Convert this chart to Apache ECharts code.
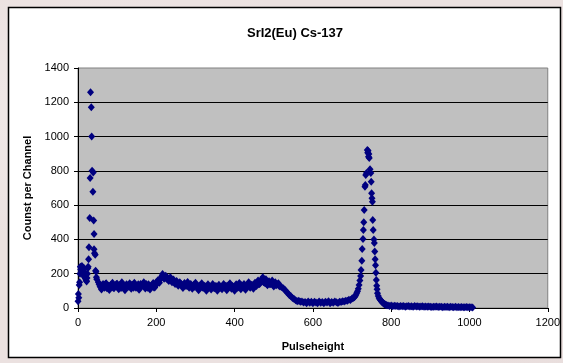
<!DOCTYPE html>
<html><head><meta charset="utf-8">
<script src="https://cdn.jsdelivr.net/npm/echarts@6/dist/echarts.min.js"></script>
<style>
html,body{margin:0;padding:0;width:563px;height:363px;overflow:hidden;
background:#ebe1e0;
background-image:radial-gradient(ellipse at 20% 30%, rgba(255,255,255,0.35), rgba(255,255,255,0) 40%),radial-gradient(ellipse at 80% 70%, rgba(200,180,180,0.25), rgba(200,180,180,0) 45%);}
#c{width:563px;height:363px;}
</style></head>
<body><div id="c"></div>
<script>
// ---- data ----
const chartTitle = 'SrI2(Eu) Cs-137';
const xTitle = 'Pulseheight';
const yTitle = 'Counst per Channel';
const xTicks = { min: 0, max: 1200, step: 200 };
const yTicks = { min: 0, max: 1400, step: 200 };

// low-energy region (channel, counts)
const lowRegion = [
  [0,40],[1,82],[2,60],[3,134],[4,150],[5,200],[6,241],[7,225],[8,233],[9,210],[10,245],
  [11,220],[12,200],[13,235],[14,190],[15,233],[16,210],[17,180],[18,200],[19,170],[20,193],
  [21,160],[22,154],[23,175],[24,200],[25,232],[26,240],[27,284],[28,354],[30,525],[31,758],
  [32,1258],[34,1171],[35,1000],[36,800],[38,678],[39,791],[40,511],[41,432],[41,342],[42,320],
  [44,311],[45,218],[46,212],[47,180],[48,167]
];
// Compton continuum: counts for channels 52..516, every 4 channels
const continuumStart = 52, continuumStep = 4;
const continuum = [
  150,128,108,140,118,145,125,105,135,148,115,130,142,110,126,150,120,104,138,128,
  145,112,132,148,118,126,106,140,130,150,114,124,138,108,130,146,120,150,162,148,
  176,198,170,188,178,158,180,150,166,140,158,130,150,138,116,146,128,152,118,140,
  112,135,148,120,104,132,145,118,126,100,138,122,108,140,115,128,100,136,120,110,
  140,124,104,132,145,112,125,100,138,118,146,110,128,140,106,130,150,118,135,112,
  148,128,160,140,165,180,150,168,132,156,140,160,125,150,135,145,125
];
// Compton continuum, in-between channels 54..514, every 4 channels
const continuumBStart = 54, continuumBStep = 4;
const continuumB = [
  138,120,132,126,140,115,130,122,136,118,128,140,120,132,116,134,126,120,130,124,
  128,136,118,130,124,138,120,128,134,122,140,118,130,126,136,120,132,142,155,168,
  185,178,182,170,165,172,160,155,150,145,140,138,142,130,135,132,138,126,134,128,
  130,124,136,128,122,132,120,130,126,118,128,124,120,130,118,126,122,124,116,128,
  120,130,118,126,122,128,120,124,130,122,126,132,120,128,124,130,126,132,128,136,
  134,142,138,150,160,150,145,140,148,138,145,135,140,132,138,128
];
// Compton edge fall-off and valley: channels 520..700, every 4 channels
const valleyStart = 520, valleyStep = 4;
const valley = [
  122,115,108,95,88,75,68,58,52,45,40,42,36,38,32,35,28,38,30,36,
  27,36,32,28,38,30,35,27,36,32,39,28,35,30,38,33,29,36,35,40,
  38,42,42,48,47,55
];
// photopeak region (channel, counts)
const photopeak = [
  [703,58],[706,62],[708,70],[710,78],[712,88],[714,98],[716,112],[718,134],[720,160],[722,187],
  [723,222],[725,276],[726,344],[728,402],[729,455],[730,500],[731,572],[733,708],[734,717],[735,776],
  [737,787],[739,921],[740,905],[741,918],[742,883],[743,898],[744,875],[746,809],[748,787],[749,737],
  [750,670],[751,640],[752,620],[753,513],[754,455],[756,400],[757,379],[758,330],[759,284],[760,250],
  [761,206],[762,163],[763,130],[764,110],[765,86],[767,70],[769,58],[771,51],[773,45],[775,40],
  [777,34],[779,30],[781,26],[783,22],[785,20],[787,18],[789,16]
];
// high-energy tail: channels 792..1008, every 4 channels
const tailStart = 792, tailStep = 4;
const tail = [
  15,12,14,10,13,11,12,9,11,10,12,8,10,11,9,10,8,11,9,10,
  7,9,10,8,9,7,9,8,6,8,7,9,6,8,7,5,8,6,7,5,
  7,6,5,7,5,6,4,6,5,4,6,5,4,5,3
];

// ---- build points ----
const points = [];
lowRegion.forEach(p => points.push(p));
continuum.forEach((v, i) => points.push([continuumStart + i * continuumStep, v]));
continuumB.forEach((v, i) => points.push([continuumBStart + i * continuumBStep, v]));
valley.forEach((v, i) => points.push([valleyStart + i * valleyStep, v]));
photopeak.forEach(p => points.push(p));
tail.forEach((v, i) => points.push([tailStart + i * tailStep, v]));

const chart = echarts.init(document.getElementById('c'), null, {renderer: 'canvas'});
const font = 'Arial, "Liberation Sans", sans-serif';
const plain = v => String(v);
chart.setOption({
  animation: false,
  graphic: [{
    type: 'rect', z: -10, silent: true,
    shape: { x: 8.5, y: 7.5, width: 552, height: 350 },
    style: { fill: '#ffffff', stroke: '#000000', lineWidth: 1.5 }
  }],
  title: {
    text: chartTitle, left: 290, top: 22, textAlign: 'center',
    textStyle: { fontFamily: font, fontSize: 13, fontWeight: 'bold', color: '#000' }
  },
  grid: {
    left: 78, right: 13, top: 68, bottom: 55, show: true,
    backgroundColor: '#c0c0c0', borderColor: '#808080', borderWidth: 1
  },
  xAxis: {
    type: 'value', min: xTicks.min, max: xTicks.max, interval: xTicks.step,
    name: xTitle, nameLocation: 'middle', nameGap: 33,
    nameTextStyle: { fontFamily: font, fontSize: 11, fontWeight: 'bold', color: '#000' },
    axisLine: { show: true, onZero: false, lineStyle: { color: '#000', width: 1 } },
    axisTick: { show: true, inside: false, length: 4, lineStyle: { color: '#000' } },
    axisLabel: { fontFamily: font, fontSize: 11, color: '#000', margin: 9, formatter: plain },
    splitLine: { show: false }
  },
  yAxis: {
    type: 'value', min: yTicks.min, max: yTicks.max, interval: yTicks.step,
    name: yTitle, nameLocation: 'middle', nameGap: 28, nameRotate: 90,
    nameTextStyle: { fontFamily: font, fontSize: 11, fontWeight: 'bold', color: '#000' },
    axisLine: { show: true, lineStyle: { color: '#000', width: 1 } },
    axisTick: { show: true, inside: false, length: 4, lineStyle: { color: '#000' } },
    axisLabel: { fontFamily: font, fontSize: 11, color: '#000', margin: 9, formatter: plain },
    splitLine: { show: true, showMinLine: false, showMaxLine: false, lineStyle: { color: '#000', width: 1 } }
  },
  series: [{
    type: 'scatter', data: points, symbol: 'diamond', symbolSize: [7, 8],
    itemStyle: { color: '#000080', opacity: 1 }, silent: true
  }]
});
</script></body></html>
